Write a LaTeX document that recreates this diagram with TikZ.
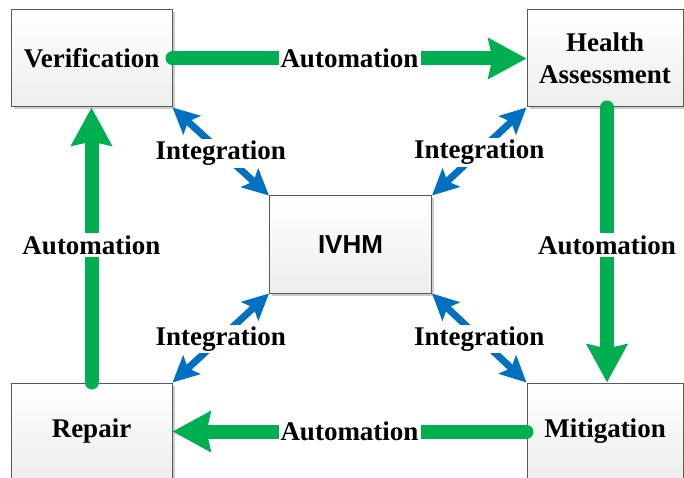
\documentclass[tikz,border=0pt]{standalone}
\usepackage{fontspec}
\setmainfont{Liberation Serif}
\newfontfamily\sansbold{Liberation Sans}
\usetikzlibrary{arrows.meta,shadows}
\definecolor{flowgreen}{HTML}{00B050}
\definecolor{linkblue}{HTML}{0070C0}
\definecolor{boxline}{HTML}{595959}
\begin{document}
\begin{tikzpicture}[x=1pt,y=-1pt,
  panel/.style={draw=boxline, line width=1pt, top color=white, bottom color=gray!14,
    drop shadow={shadow xshift=2.5pt, shadow yshift=-2.5pt, fill=gray!40, opacity=1},
    inner sep=0pt, align=center, text=black,
    font=\fontsize{27}{32}\selectfont\bfseries},
  flow/.style={draw=flowgreen, line width=14pt, line cap=round,
    -{Stealth[length=38pt,width=40pt,inset=4pt]}},
  link/.style={draw=linkblue, line width=7pt,
    {Stealth[length=26pt,width=25pt,inset=5pt]}-{Stealth[length=26pt,width=25pt,inset=5pt]}},
  tag/.style={fill=white, inner sep=2pt, text=black,
    font=\fontsize{27}{32}\selectfont\bfseries}]
\useasboundingbox (0,0) rectangle (684,478);
\clip (0,0) rectangle (684,478);

% the five stages
\node[panel, minimum width=161pt, minimum height=97pt] (ver) at (91.5,58.5) {Verification};
\node[panel, minimum width=156pt, minimum height=97pt] (hea) at (605,58.5) {Health\\Assessment};
\node[panel, minimum width=162pt, minimum height=97pt,
      font=\fontsize{26}{32}\selectfont\sansbold\bfseries] (ivhm) at (350.5,244.5) {IVHM};
\node[panel, minimum width=156pt, minimum height=97pt] (mit) at (605,431.5) {Mitigation};
\node[panel, minimum width=161pt, minimum height=97pt] (rep) at (91.5,431.5) {Repair};

% automation cycle
\draw[flow] (ver.east) -- node[tag]{Automation} (hea.west);
\draw[flow] ([xshift=2pt]hea.south) -- node[tag]{Automation} ([xshift=2pt]mit.north);
\draw[flow] (mit.west) -- node[tag]{Automation} (rep.east);
\draw[flow] (rep.north) -- node[tag]{Automation} (ver.south);

% integration links to the hub
\draw[link] (ver.south east) -- node[tag, yshift=-2pt]{Integration} (ivhm.north west);
\draw[link] (hea.south west) -- node[tag, yshift=-1pt]{Integration} (ivhm.north east);
\draw[link] (ivhm.south west) -- node[tag, yshift=-1pt]{Integration} (rep.north east);
\draw[link] (ivhm.south east) -- node[tag, yshift=-1pt]{Integration} (mit.north west);
\end{tikzpicture}
\end{document}
